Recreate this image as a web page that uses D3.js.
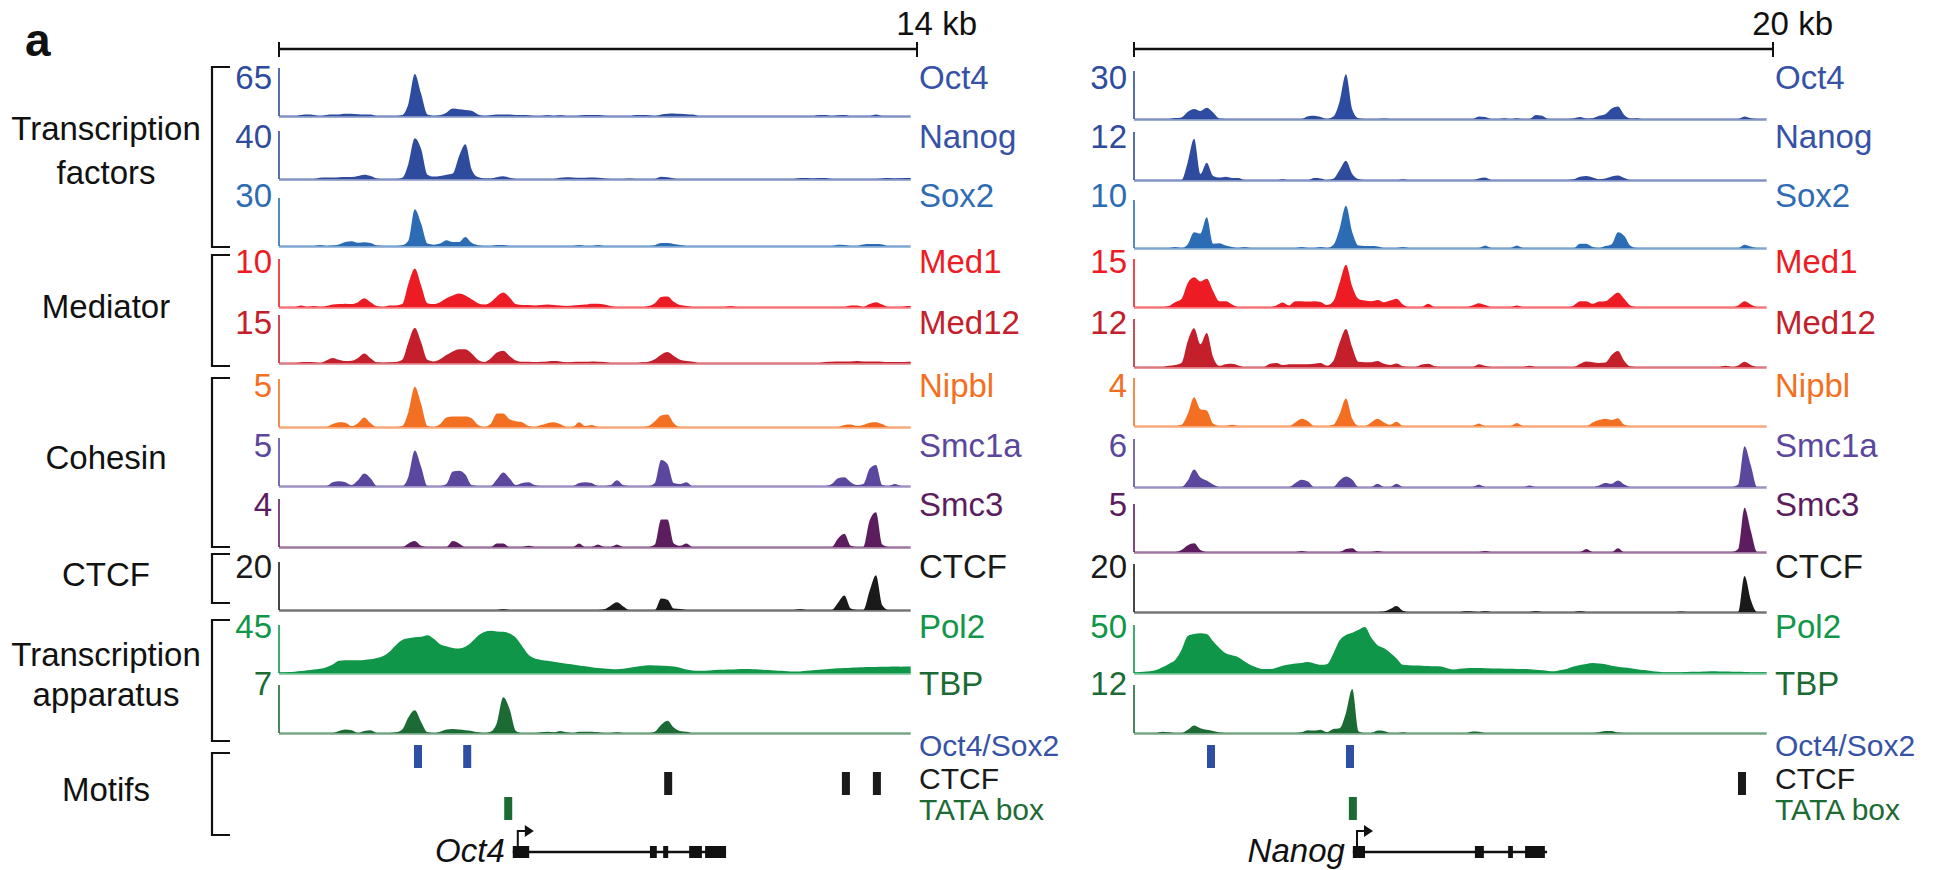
<!DOCTYPE html>
<html><head><meta charset="utf-8">
<script src="https://cdn.jsdelivr.net/npm/d3@7"></script>
<style>
body{margin:0;background:#fff;}
svg{display:block;}
text{font-family:"Liberation Sans",Arial,Helvetica,sans-serif;}
</style>
</head><body>
<svg id="chart" width="1937" height="870"></svg>
<script>
// ---------------- DATA ----------------
const trackNames = ["Oct4","Nanog","Sox2","Med1","Med12","Nipbl","Smc1a","Smc3","CTCF","Pol2","TBP"];
const trackColors = ["#2d4b9f","#2f4b9d","#2b6cb4","#ed1c24","#c4202b","#f36f21","#5b479d","#5c1d5f","#1a1a1a","#0f9648","#1c6b35"];
const labelColors = ["#3652a6","#3652a6","#2f6cb4","#ed1c24","#c4202b","#f36f21","#5b479d","#5c1d5f","#1a1a1a","#12964a","#1c6b35"];
const oct4LocusMax  = [65,40,30,10,15,5,5,4,20,45,7];
const nanogLocusMax = [30,12,10,15,12,4,6,5,20,50,12];
const windowKb = [14, 20];
const scaleLabels = ["14 kb", "20 kb"];

// Oct4 locus signals (100 bins across the 14-kb window)
const L_Oct4 = [0,0,0,1.5,2,1.5,0,1.5,2,2, 3,3,2.5,2,2,0,0,0,0,1.3, 17,57,30,2,0,1,4.5,10,9,8, 7,2,0,1,2,2,2,1.5,1.5,1, 0,0,1,0,1,0,0,0.5,1.5,1.5, 1.5,0.5,0,0,0,0,1.5,1.5,1,0, 2,3,3.5,3,2.5,2,0,0,0,0, 0,0,0,0,0,0,0,0,0,0, 0,0,0,0,0,1.5,1.5,0,1,1.5, 0,0,0,0,2,0,0,0,0,0];
const L_Nanog = [0,0,0,0,0,0,1,1.2,1.2,1.4, 1.6,1.6,2.4,3.6,2.5,0.5,0,0,0,1, 13,34,25,3.6,2,2.5,3.5,4.5,19,29, 8,1.6,0.5,0.5,1.5,2.2,1,0,0,0, 0,0,0,0,1,1.4,1.2,1,1,1.2, 1,0.4,0,0,0,0.4,0,0,0,0, 1.8,1.4,0.5,0,0,0,0,0,0,0, 0,0,0,0,0,0,0,0,0,0, 0,0,0.8,0.8,0.5,0.8,0.8,0,0,0, 0,0,0,0,0,0.5,0.8,0.5,0.6,0.8];
const L_Sox2 = [0,0,0,0,0,0,0.6,0,0.3,1, 2.5,3,2,2.3,1.8,0.3,0,0,0,0.5, 3.5,23,14,1.5,0.8,1.5,3.6,2.5,2.5,5.7, 2,0.5,0,0,0.6,0.6,0,0,0,0, 0,0,0,0,0,0,0,0.6,0,0, 0.6,0,0,0,0,0,0,0,0,0.5, 1.8,1.8,1.2,0.6,0,0,0,0,0,0, 0,0,0,0,0,0,0,0,0,0, 0,0,0,0,0,0,0,0,0.8,0.6, 0,0,0.9,1.2,1.2,1,0,0,0,0];
const L_Med1 = [0,0,0,0.3,0,0.2,0,0.2,0.5,0.6, 0.7,0.6,1.0,1.8,1.0,0.2,0,0.3,0.3,0.6, 4.9,8.0,4.5,0.8,0.6,1.0,1.8,2.4,2.8,2.4, 1.6,0.8,0.5,1.0,2.2,3.0,2.0,0.6,0.4,0.4, 0.3,0.4,0.5,0.4,0.3,0.2,0.3,0.4,0.5,0.7, 0.7,0.5,0.2,0,0,0,0,0,0.2,0.8, 2.1,2.2,1.1,0.4,0.2,0,0,0,0,0, 0,0.2,0,0,0,0,0,0,0,0, 0,0,0,0,0,0,0,0,0,0, 0.3,0.3,0,0.6,1.0,0.5,0,0,0,0.2];
const L_Med12 = [0,0,0,0.2,0.3,0.2,0,0.8,1.6,1.0, 0.6,0.7,1.6,3.0,1.5,0.2,0.1,0.2,0.3,1.0, 6.6,11,6.5,1.0,0.5,1.2,2.5,3.6,4.3,4.3, 3.0,1.0,0.3,1.4,3.3,3.8,2.2,0.8,0.4,0.4, 0.3,0.4,0.5,0.6,0.5,0.2,0.3,0.4,0.4,0.5, 0.4,0.3,0,0,0,0,0,0.2,0.4,1.2, 2.6,3.4,2.2,1.0,0.6,0.4,0,0,0,0, 0,0,0,0,0,0,0,0,0,0, 0,0,0,0,0,0,0.3,0.4,0.5,0.5, 0.5,0.6,0.5,0.5,0.5,0.4,0.3,0.3,0.3,0.4];
const L_Nipbl = [0,0,0,0,0,0,0,0,0.3,0.5, 0.45,0.1,0.4,1.0,0.4,0,0,0,0,0.1, 1.6,4.2,2.4,0.1,0,0.3,1.0,1.1,1.1,1.1, 0.9,0.2,0,0.3,1.4,1.4,0.8,0.6,0.5,0.1, 0,0.2,0.4,0.5,0.3,0,0,0.5,0.1,0.2, 0,0,0,0,0,0,0,0,0.1,0.6, 1.2,1.3,0.4,0,0,0,0,0,0,0, 0,0,0,0,0,0,0,0,0,0, 0,0,0,0,0,0,0,0,0,0.2, 0.25,0.1,0.2,0.45,0.5,0.3,0,0,0,0];
const L_Smc1a = [0,0,0,0,0,0,0,0,0.4,0.5, 0.4,0.1,0.6,1.3,0.8,0,0,0,0,0, 1.0,3.7,2.0,0,0,0,0.2,1.5,1.6,1.2, 0.1,0,0,0,0.7,1.4,0.8,0.1,0.3,0.4, 0.1,0,0,0,0,0,0,0.3,0.4,0.3, 0,0,0.1,0.6,0.1,0,0,0,0,0.3, 2.7,2.3,0.3,0.2,0.4,0,0,0,0,0, 0,0,0,0,0,0,0,0,0,0, 0,0,0,0,0,0,0,0.2,0.8,0.9, 0.4,0.1,0.2,1.8,2.2,0.1,0,0.2,0,0];
const L_Smc3 = [0,0,0,0,0,0,0,0,0,0, 0,0,0,0,0,0,0,0,0,0, 0.3,0.5,0.1,0,0,0,0,0.5,0.3,0, 0,0,0,0,0.3,0.3,0,0,0,0.1, 0,0,0,0,0,0,0,0.3,0,0, 0.2,0,0,0.2,0,0,0,0,0,0.2, 2.3,2.3,0.3,0.1,0.3,0,0,0,0,0, 0,0,0,0,0,0,0,0,0,0, 0,0,0,0,0,0,0,0,0.7,1.1, 0.1,0,0,2.2,2.9,0.2,0,0,0,0];
const L_CTCF = [0,0,0,0,0,0,0,0,0,0, 0,0,0,0,0,0,0,0,0,0, 0,0,0,0,0,0,0,0,0,0, 0,0,0,0,0,0.3,0,0,0,0, 0,0,0,0,0,0,0,0,0,0, 0,0.3,1.8,3.2,1.5,0,0,0,0,0, 4.8,4.3,0.6,0.4,0,0,0,0,0,0, 0,0,0,0,0,0,0,0,0,0, 0,0,0.3,0,0,0,0,0,3,6, 0.6,0,0,8,14.5,2,0,0,0,0];
const L_Pol2 = [0.7,0.9,1.2,1.8,2.5,3.2,4,5.5,8,11.5, 12,12,12,12.3,12.8,14,16,20,26,31, 32.5,33.4,34,35.5,32,27,25,23.5,23,24.5, 29,35,38.5,39.6,39,38.7,37,33,25,17, 13.5,12.3,11.5,10.5,9.5,8.7,8,7,6.3,5.5, 4.8,4.2,3.8,3.5,4,5,5.8,6.5,7.2,7, 6.8,6.6,6,5,3.2,2.3,2,2.1,2.6,3, 3.1,3.3,3.6,3.8,3.8,3.4,3,2.7,2.4,2, 1.6,1.4,1.5,2,2.5,3,3.5,4,4.4,4.7, 5,5.2,5.4,5.6,5.7,5.8,5.9,6,5.8,6];
const L_TBP = [0,0,0,0,0,0,0,0,0,0.3, 0.5,0.4,0,0.3,0.4,0,0,0,0.1,0.5, 2.3,3.3,1.6,0.1,0,0.2,0.5,0.6,0.5,0.4, 0.3,0.1,0,0.2,1.5,5.2,3.5,0.3,0,0, 0,0.1,0.2,0.1,0.3,0.1,0,0.2,0.2,0.2, 0.1,0,0,0.1,0,0,0,0,0,0.2, 1.2,1.8,0.8,0.3,0.2,0,0,0,0,0, 0,0,0,0,0,0,0,0,0,0, 0,0,0,0,0,0,0,0,0,0, 0,0,0,0,0,0,0,0,0,0];

// Nanog locus signals (100 bins across the 20-kb window)
const R_Oct4 = [0,0,0,0,0,0,0.6,1.0,4.5,6.3, 5,7,4,0.3,0,0,0,0,0,0, 0,0,0,0,0,0,0,1.7,2,1.2, 0,1.5,11,28,6,0.5,0,0,0,0.3, 0,0,0,0,0,0,0,0,0,0, 0,0,0,0,1.6,1.2,0,0,0.5,0, 0.5,0,0,2.5,2,0,0,0,0,0.3, 1.2,0.3,0.5,2,3,6.5,7.8,2.5,0.3,0.5, 0,0,0,0,0,0,0,0,0,0, 0,0,0,0,0,0,1.5,0.5,0,0];
const R_Nanog = [0,0,0,0,0,0,0,0,4.5,10.3, 1.5,4.3,1.0,0.6,0.8,0.5,0.5,0,0,0, 0,0,0,0.2,0,0,0,0,0.5,0.4, 0,0.3,2.5,4.8,1.5,0.2,0,0,0,0, 0,0,0.2,0,0,0,0,0,0,0, 0,0,0,0,0.4,0.6,0,0,0,0, 0,0,0,0,0,0,0,0,0,0.2, 0.8,1.0,0.6,0.2,0.4,0.9,1.1,0.5,0,0, 0,0,0,0,0,0,0,0,0,0, 0,0,0,0,0,0,0,0,0,0];
const R_Sox2 = [0,0,0,0,0,0,0.2,0,0.8,3.3, 3.0,6.4,0.9,1.0,0.5,0.2,0,0.2,0,0, 0,0,0,0,0,0,0.2,0,0,0.2, 0,0.6,4,8.8,3.3,0.5,0.4,0.4,0.3,0, 0,0,0.2,0,0,0,0,0,0,0, 0,0,0,0,0,0.5,0,0,0,0, 0.5,0,0,0,0,0,0,0,0,0, 0.9,0.9,0.2,0,0.4,0.8,3.3,2.5,0.4,0, 0,0,0,0,0,0,0,0,0,0, 0,0,0,0,0,0,0.7,0.3,0,0];
const R_Med1 = [0,0,0,0,0,0.3,1.5,2.5,7.5,9.3, 8,8.8,5,1.8,1.8,0.8,0,0,0,0, 0,0,0.5,1.4,0.5,1.8,1.8,1.7,1.8,1.6, 0.6,1.8,7.6,13.2,6.4,2.5,2,1.8,2.2,1.5, 2,2.6,0.8,0,0,0,1.0,0,0,0, 0,0,0,0.5,1.2,0.6,0,0,0,0, 0.5,0,0,0,0,0,0,0,0,0.5, 1.8,1.8,1.0,1.7,1.8,3.2,4.5,2.5,0.4,0, 0,0,0,0,0,0,0,0,0,0, 0,0,0,0,0,0.5,1.8,0.8,0,0];
const R_Med12 = [0,0,0,0,0,0.3,0.5,1.0,6.5,9.7, 5.7,8.5,2.5,0.3,0.7,0.8,0.4,0,0,0, 0,0.8,1.0,0.5,0.7,0.7,0.7,0.7,0.8,1.0, 0.3,1.5,6.1,9.5,4.9,1.3,1.2,1.2,1.5,0.8, 0.5,0.9,0.2,0,0,0.6,0.8,0.2,0,0, 0,0,0,0,0.7,0.3,0,0,0,0, 0,0,0.3,0,0,0,0,0,0,0, 0.8,1.4,1.2,1.0,1.1,3,4,1.5,0.1,0, 0,0,0,0,0,0,0,0,0,0, 0,0,0,0.3,0,0.4,1.3,0.5,0,0];
const R_Nipbl = [0,0,0,0,0,0,0,0.1,1.0,2.4, 1.4,1.3,0.2,0,0,0.1,0,0,0,0, 0,0,0,0,0,0.3,0.6,0.4,0,0, 0,0.1,1.0,2.3,0.6,0,0,0.3,0.6,0.3, 0.1,0.35,0,0,0,0,0,0,0,0, 0,0,0,0,0.2,0,0,0,0,0, 0.25,0,0,0,0,0,0,0,0,0, 0,0,0.3,0.5,0.6,0.5,0.65,0.1,0,0, 0,0,0,0,0,0,0,0,0,0, 0,0,0,0,0,0,0,0,0,0];
const R_Smc1a = [0,0,0,0,0,0,0,0,0.8,2.2, 1.2,0.8,0.3,0,0,0,0,0,0,0, 0,0,0,0,0,0.5,0.9,0.7,0,0, 0,0,0.8,1.3,0.9,0,0,0,0.4,0, 0,0.4,0,0,0,0,0,0,0,0, 0,0,0,0,0.3,0,0,0,0,0, 0,0,0.2,0,0,0,0,0,0,0, 0,0,0,0.2,0.5,0.4,0.8,0.3,0,0, 0,0,0,0,0,0,0,0,0,0, 0,0,0,0,0,0.3,5.1,2.7,0,0];
const R_Smc3 = [0,0,0,0,0,0,0,0.2,0.7,0.9, 0.2,0,0,0,0,0,0,0,0,0, 0,0,0,0,0,0,0.1,0,0,0, 0,0,0,0.3,0.4,0,0,0,0.1,0, 0,0,0,0,0,0,0,0,0,0, 0,0,0,0,0,0.1,0,0,0,0, 0,0,0,0,0,0,0,0,0,0, 0,0.3,0,0,0,0,0.4,0,0,0, 0,0,0,0,0,0,0,0,0,0, 0,0,0,0,0,0.3,4.6,2.2,0,0];
const R_CTCF = [0,0,0,0,0,0,0,0,0,0, 0,0,0,0,0,0,0,0,0,0, 0,0,0,0,0,0,0,0,0,0, 0,0,0,0,0,0,0,0,0,0.2, 1.2,2.5,0.5,0,0,0,0,0,0,0, 0,0,0.3,0.2,0,0.3,0,0,0,0, 0,0,0,0.3,0,0,0,0,0,0, 0.3,0,0,0,0,0,0,0,0,0, 0,0,0,0,0,0,0.2,0,0,0, 0,0,0,0,0,0,15,5,0,0];
const R_Pol2 = [0.7,1.2,1.7,3,6,9.5,13.5,24,38.6,40.5, 41.4,40.5,33,26,20.5,18.5,16.5,12,8,5.5, 4.1,4.1,5.5,7.5,8.8,9.8,10.5,11.4,10,8.6, 9.2,20,34,39.7,42,45,48,37,29,26, 21,15,8.5,8.2,7.8,7.6,7.3,7,6.9,5, 3.6,4.3,5,5.2,5.2,5,4.8,4.6,4.5,4.4, 4.2,4.1,3.8,3.3,2.9,2.2,1.8,3,4.5,6.8, 8.3,9.5,10.3,9.8,9,7.6,6.5,5.6,5,4, 3,2.3,1.5,0.9,0.7,0.8,0.9,1,1.2,1.4, 1.6,1.7,1.6,1.5,1.4,1.2,1,0.9,0.8,0.7];
const R_TBP = [0,0,0,0,0.3,0.2,0,0,0.8,1.9, 1.2,0.8,0.5,0.1,0,0,0,0,0,0, 0,0,0,0,0,0,0.2,0.7,0.6,0.8, 0.2,1.0,1.2,5,11,0.4,0,0,0.6,0.5, 0,0,0.2,0,0,0,0,0,0,0, 0,0,0,0.4,0.3,0,0,0,0,0, 0,0,0,0,0,0,0,0,0,0, 0,0,0,0.2,0.5,0.5,0.1,0,0,0, 0,0,0,0,0,0,0,0,0,0, 0,0,0,0,0,0,0,0,0,0];

// Motif positions (kb)
const motifNames = ["Oct4/Sox2","CTCF","TATA box"];
const motifColors = ["#2e4fa3","#1a1a1a","#1c6b35"];
const motifLabelColors = ["#3652a6","#1a1a1a","#1c6b35"];
const oct4MotifOS = [3.05, 4.13];
const oct4MotifCTCF = [8.54, 12.44, 13.12];
const oct4MotifTATA = [5.03];
const nanogMotifOS = [2.41, 6.76];
const nanogMotifCTCF = [19.03];
const nanogMotifTATA = [6.85];

// Gene models (kb)
const geneNames = ["Oct4","Nanog"];
const oct4Gene = {txStart:5.13, txEnd:9.81, tss:5.24, exons:[[5.13,5.49],[8.14,8.29],[8.43,8.54],[9.00,9.28],[9.35,9.81]]};
const nanogGene = {txStart:6.85, txEnd:12.93, tss:6.98, exons:[[6.85,7.23],[10.67,10.95],[11.71,11.86],[12.24,12.86]]};

// Group labels on the left
const groupLabels = [["Transcription","factors"],["Mediator"],["Cohesin"],["CTCF"],["Transcription","apparatus"],["Motifs"]];

// ---------------- LAYOUT ----------------
const svg = d3.select("#chart");
const FONT = 33;
const MOTIF_FONT = 30;
const trackH = 48;
const panels = [
  {kb:windowKb[0], r:[279,917], base:[116,179,246,307,363,427,486,547,610,673,733],
   signals:[L_Oct4,L_Nanog,L_Sox2,L_Med1,L_Med12,L_Nipbl,L_Smc1a,L_Smc3,L_CTCF,L_Pol2,L_TBP],
   maxes:oct4LocusMax, motifs:[oct4MotifOS,oct4MotifCTCF,oct4MotifTATA], gene:oct4Gene, geneName:geneNames[0], scale:scaleLabels[0]},
  {kb:windowKb[1], r:[1134,1773], base:[119,180,248,307,367,426,487,552,612,673,733],
   signals:[R_Oct4,R_Nanog,R_Sox2,R_Med1,R_Med12,R_Nipbl,R_Smc1a,R_Smc3,R_CTCF,R_Pol2,R_TBP],
   maxes:nanogLocusMax, motifs:[nanogMotifOS,nanogMotifCTCF,nanogMotifTATA], gene:nanogGene, geneName:geneNames[1], scale:scaleLabels[1]}
];
const labelBase = [89,148,207,273,334,397,457,516,578,638,695];
const motifLabelBase = [756,789,820];
const motifY = [745,772,797];
const motifH = 23;
const geneY = 852;

// panel letter
svg.append("text").attr("x",25).attr("y",56).attr("font-size",46).attr("font-weight","bold").attr("fill","#111").text("a");

panels.forEach(p => {
  const x = d3.scaleLinear().domain([0,p.kb]).range(p.r);
  const nb = 100, binKb = p.kb/101;
  // scale bar
  const sb = svg.append("g").attr("stroke","#111");
  sb.append("line").attr("x1",x(0)).attr("x2",x(p.kb)).attr("y1",49).attr("y2",49).attr("stroke-width",2.6);
  [0,p.kb].forEach(k => sb.append("line").attr("x1",x(k)).attr("x2",x(k)).attr("y1",42).attr("y2",57).attr("stroke-width",2));
  svg.append("text").attr("x",x(p.kb)+60).attr("y",35).attr("text-anchor","end").attr("font-size",FONT).attr("fill","#111").text(p.scale);

  p.signals.forEach((vals,t) => {
    const base = p.base[t];
    const y = d3.scaleLinear().domain([0,p.maxes[t]]).range([base, base-trackH]).clamp(true);
    const pts = [{k:0,v:vals[0]}].concat(vals.map((v,i)=>({k:(i+0.5)*binKb,v}))).concat([{k:nb*binKb,v:vals[nb-1]}]);
    const area = d3.area().x(d=>x(d.k)).y0(base).y1(d=>y(d.v)).curve(d3.curveMonotoneX);
    const col = trackColors[t];
    svg.append("path").datum(pts).attr("d",area).attr("fill",col);
    // baseline
    svg.append("line").attr("x1",x(0)).attr("x2",x(nb*binKb)).attr("y1",base+0.5).attr("y2",base+0.5)
      .attr("stroke",col).attr("stroke-opacity",0.6).attr("stroke-width",2.5);
    // y axis line
    svg.append("line").attr("x1",x(0)).attr("x2",x(0)).attr("y1",base).attr("y2",base-trackH)
      .attr("stroke",col).attr("stroke-width",1.6);
    // max label
    svg.append("text").attr("x",x(0)-7).attr("y",labelBase[t]).attr("text-anchor","end")
      .attr("font-size",FONT).attr("fill",col).text(p.maxes[t]);
    // track name
    svg.append("text").attr("x",x(p.kb)+2).attr("y",labelBase[t]).attr("font-size",FONT)
      .attr("fill",labelColors[t]).text(trackNames[t]);
  });

  // motifs
  p.motifs.forEach((arr,m) => {
    svg.selectAll(null).data(arr).enter().append("rect")
      .attr("x",d=>x(d)-4).attr("y",motifY[m]).attr("width",8).attr("height",motifH).attr("fill",motifColors[m]);
    svg.append("text").attr("x",x(p.kb)+2).attr("y",motifLabelBase[m]).attr("font-size",MOTIF_FONT)
      .attr("fill",motifLabelColors[m]).text(motifNames[m]);
  });

  // gene model
  const g = p.gene;
  svg.append("line").attr("x1",x(g.txStart)).attr("x2",x(g.txEnd)).attr("y1",geneY).attr("y2",geneY)
    .attr("stroke","#111").attr("stroke-width",2.5);
  svg.selectAll(null).data(g.exons).enter().append("rect")
    .attr("x",d=>x(d[0])).attr("width",d=>Math.max(3,x(d[1])-x(d[0])))
    .attr("y",geneY-6).attr("height",12).attr("fill","#111");
  const tx = x(g.tss);
  svg.append("path").attr("d",`M${tx},${geneY-6}V${geneY-21}H${tx+8}`).attr("fill","none").attr("stroke","#111").attr("stroke-width",2);
  svg.append("path").attr("d",`M${tx+7},${geneY-27}L${tx+16},${geneY-21}L${tx+7},${geneY-15}Z`).attr("fill","#111");
  svg.append("text").attr("x",x(g.txStart)-8).attr("y",geneY+10).attr("text-anchor","end")
    .attr("font-size",FONT).attr("font-style","italic").attr("fill","#111").text(p.geneName);
});

// group labels and brackets
const bracketSpans = [[67,247],[255,366],[378,547],[554,603],[620,741],[753,835]];
const groupBaselines = [[140,184],[318],[469],[586],[666,706],[801]];
groupLabels.forEach((lines,i) => {
  lines.forEach((s,j) => svg.append("text").attr("x",106).attr("y",groupBaselines[i][j])
    .attr("text-anchor","middle").attr("font-size",FONT).attr("fill","#111").text(s));
  const [a,b] = bracketSpans[i];
  svg.append("path").attr("d",`M230,${a}H212V${b}H230`).attr("fill","none").attr("stroke","#111").attr("stroke-width",2.2);
});
</script>
</body></html>
